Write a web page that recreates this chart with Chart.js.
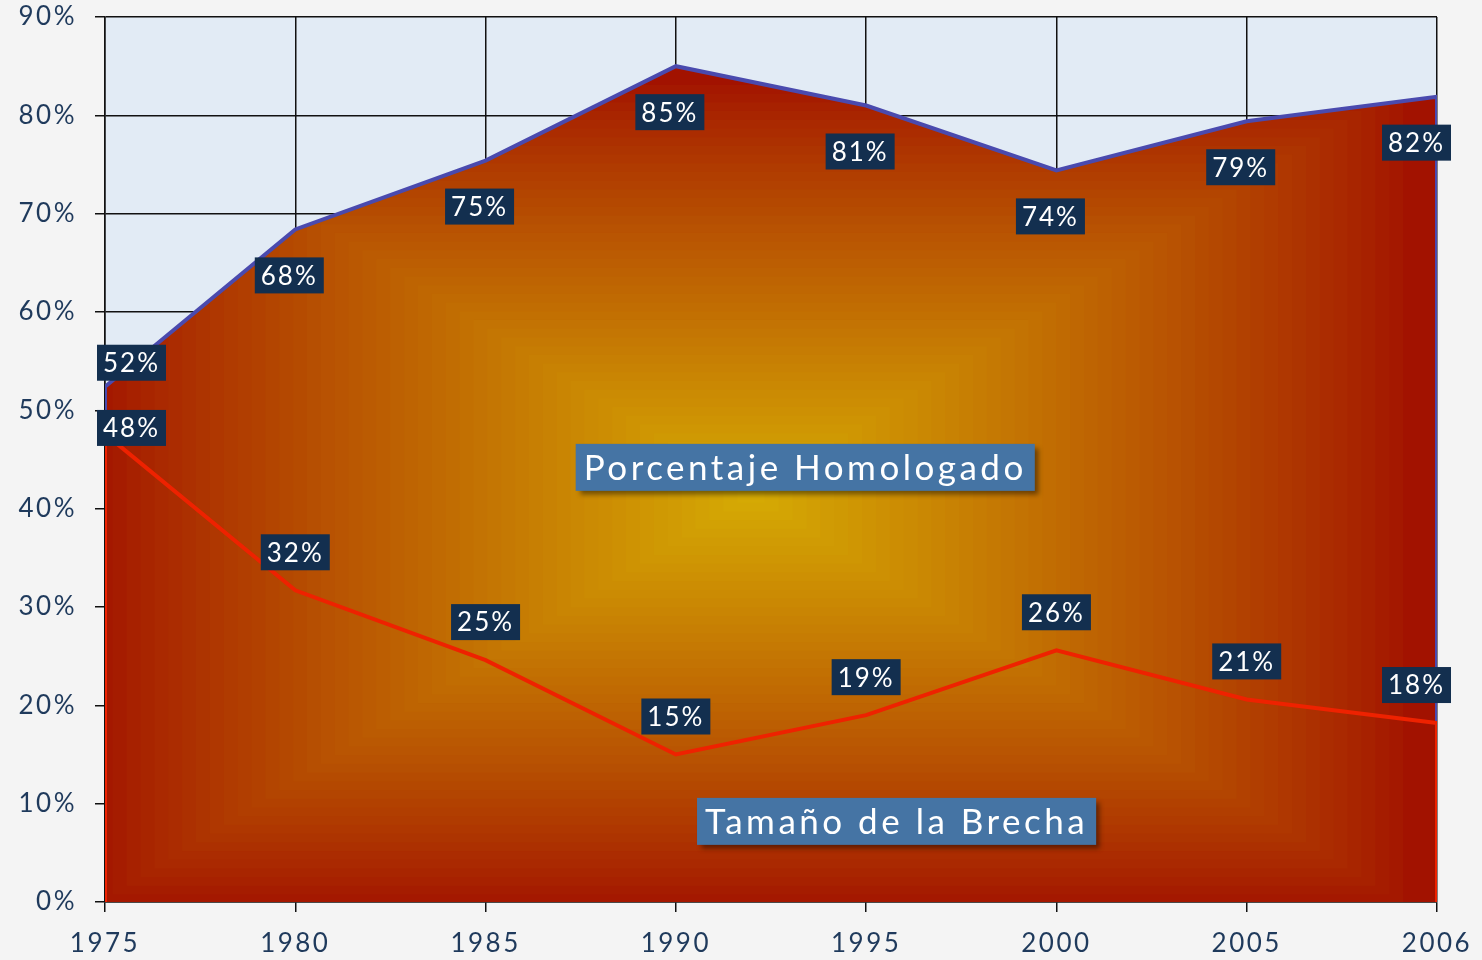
<!DOCTYPE html>
<html>
<head>
<meta charset="utf-8">
<script src="https://cdn.jsdelivr.net/npm/chart.js@4"></script>
<style>
  html, body { margin: 0; padding: 0; background: #f4f4f4; }
  #wrap { width: 1482px; height: 960px; }
</style>
</head>
<body>
<div id="wrap"><canvas id="chart"></canvas></div>
<script>
const years = ['1975', '1980', '1985', '1990', '1995', '2000', '2005', '2006'];
const homologado = [52.4, 68.4, 75.4, 85.0, 81.0, 74.4, 79.4, 81.9];
const brecha = [47.6, 31.7, 24.6, 15.0, 19.0, 25.6, 20.6, 18.2];
const seriesNames = ['Porcentaje Homologado', 'Tamaño de la Brecha'];
const yMax = 90, yStep = 10;

const FONT = 'Lato, "Open Sans", sans-serif';
const TEXT = '#1f3a5c';

// closed polygon: down to 0 at both ends so the outline runs along the edges
function closedPoints(vals) {
  return [{x: 0, y: 0}, ...vals.map((v, i) => ({x: i, y: v})), {x: vals.length - 1, y: 0}];
}

function lerpColor(a, b, t) {
  const r = Math.round(a[0] + (b[0] - a[0]) * t);
  const g = Math.round(a[1] + (b[1] - a[1]) * t);
  const bl = Math.round(a[2] + (b[2] - a[2]) * t);
  return `rgb(${r},${g},${bl})`;
}

// rectangular "from centre" gradient, red edges -> yellow centre
let fillCache = null;
function areaFill(context) {
  const chart = context.chart;
  const a = chart.chartArea;
  if (!a) return '#b04000';
  const ys = chart.scales.y;
  const top = ys.getPixelForValue(Math.max(...homologado));
  const key = [a.left, a.right, top, a.bottom, chart.width, chart.height].join(',');
  if (fillCache && fillCache.key === key) return fillCache.pattern;
  const cv = document.createElement('canvas');
  cv.width = chart.width; cv.height = chart.height;
  const g = cv.getContext('2d');
  const edge = [162, 18, 0], centre = [214, 172, 4];
  const cx = (a.left + a.right) / 2 - 20, cy = (top + a.bottom) / 2 + 10;
  const hw = (a.right - a.left) / 2, hh = (a.bottom - top) / 2;
  g.fillStyle = lerpColor(edge, centre, 0);
  g.fillRect(0, 0, cv.width, cv.height);
  const N = 48;
  for (let k = 0; k < N; k++) {
    const t = 1 - k / N;
    const s = Math.pow(1 - t, 0.85);
    g.fillStyle = lerpColor(edge, centre, s);
    g.fillRect(cx - hw * t, cy - hh * t, 2 * hw * t, 2 * hh * t);
  }
  const pattern = chart.ctx.createPattern(cv, 'no-repeat');
  fillCache = {key, pattern};
  return pattern;
}

const plotBg = {
  id: 'plotBg',
  beforeDraw(chart) {
    const {ctx, chartArea: a} = chart;
    ctx.save();
    ctx.fillStyle = '#f4f4f4';
    ctx.fillRect(0, 0, chart.width, chart.height);
    ctx.fillStyle = '#e2ebf5';
    ctx.fillRect(a.left, a.top, a.right - a.left, a.bottom - a.top);
    ctx.restore();
    ctx.letterSpacing = '2.5px';
  }
};

function drawBox(ctx, text, cx, cy, opts) {
  ctx.font = opts.font;
  const w = ctx.measureText(text).width + opts.padX * 2;
  const h = opts.h;
  let x = cx - w / 2;
  if (opts.minX !== undefined) x = Math.max(x, opts.minX);
  if (opts.maxX !== undefined) x = Math.min(x, opts.maxX - w);
  ctx.save();
  if (opts.shadow) {
    ctx.shadowColor = 'rgba(0,0,0,0.45)';
    ctx.shadowOffsetX = 4; ctx.shadowOffsetY = 4; ctx.shadowBlur = 5;
  }
  ctx.fillStyle = opts.bg;
  ctx.fillRect(x, cy - h / 2, w, h);
  ctx.restore();
  ctx.save();
  ctx.fillStyle = '#ffffff';
  ctx.textAlign = 'left';
  ctx.textBaseline = 'middle';
  ctx.fillText(text, x + opts.padX, cy + 1);
  ctx.restore();
}

const labels = {
  id: 'labels',
  afterDatasetsDraw(chart) {
    const {ctx, chartArea: a, scales: {x, y}} = chart;
    ctx.save();
    ctx.letterSpacing = '2px';
    const boxOpts = {font: `26px ${FONT}`, padX: 6, h: 36, bg: '#132f4f',
                     minX: a.left - 8, maxX: a.right + 14};
    homologado.forEach((v, i) => {
      const px = x.getPixelForValue(i), py = y.getPixelForValue(v);
      const dy = i === 0 ? -24 : 46;
      drawBox(ctx, Math.round(v) + '%', px - (i > 0 ? 6 : 0), py + dy, boxOpts);
    });
    brecha.forEach((v, i) => {
      const px = x.getPixelForValue(i), py = y.getPixelForValue(v);
      const dy = i === 0 ? -6 : -38;
      drawBox(ctx, Math.round(v) + '%', px, py + dy, boxOpts);
    });
    ctx.letterSpacing = '3.5px';
    const nameOpts = {font: `35px ${FONT}`, padX: 8, h: 47, bg: '#4574a4', shadow: true};
    drawBox(ctx, seriesNames[0], x.getPixelForValue(3.68), y.getPixelForValue(44.2), nameOpts);
    drawBox(ctx, seriesNames[1], x.getPixelForValue(4.16), y.getPixelForValue(8.2), nameOpts);
    ctx.restore();
  }
};

new Chart(document.getElementById('chart'), {
  type: 'line',
  data: {
    datasets: [
      {
        label: seriesNames[1],
        data: closedPoints(brecha),
        borderColor: '#ee2200',
        borderWidth: 4,
        backgroundColor: 'rgba(0,0,0,0)',
        fill: false,
        pointRadius: 0,
        tension: 0
      },
      {
        label: seriesNames[0],
        data: closedPoints(homologado),
        borderColor: '#4a4aae',
        borderWidth: 4,
        backgroundColor: areaFill,
        fill: 'origin',
        pointRadius: 0,
        tension: 0
      }
    ]
  },
  options: {
    responsive: true,
    maintainAspectRatio: false,
    animation: false,
    layout: {padding: {top: 17, right: 45, left: 0, bottom: 0}},
    plugins: {legend: {display: false}, tooltip: {enabled: false}},
    scales: {
      x: {
        type: 'linear',
        min: 0,
        max: years.length - 1,
        afterBuildTicks(scale) { scale.ticks = years.map((_, i) => ({value: i})); },
        afterFit(scale) { scale.height = 58; scale.paddingLeft = 0; scale.paddingRight = 0; },
        ticks: {
          stepSize: 1,
          callback: v => years[v],
          color: TEXT,
          font: {family: FONT, size: 26},
          padding: 16,
          maxRotation: 0,
          autoSkip: false
        },
        grid: {color: '#111', lineWidth: 1.5, tickLength: 10},
        border: {color: '#111', width: 1.5}
      },
      y: {
        min: 0,
        max: yMax,
        afterFit(scale) { scale.width = 105; scale.paddingTop = 0; scale.paddingBottom = 0; },
        ticks: {
          stepSize: yStep,
          callback: v => v + '%',
          color: TEXT,
          font: {family: FONT, size: 26},
          padding: 18
        },
        grid: {color: '#111', lineWidth: 1.5, tickLength: 10},
        border: {color: '#111', width: 1.5}
      }
    }
  },
  plugins: [plotBg, labels]
});
</script>
</body>
</html>
